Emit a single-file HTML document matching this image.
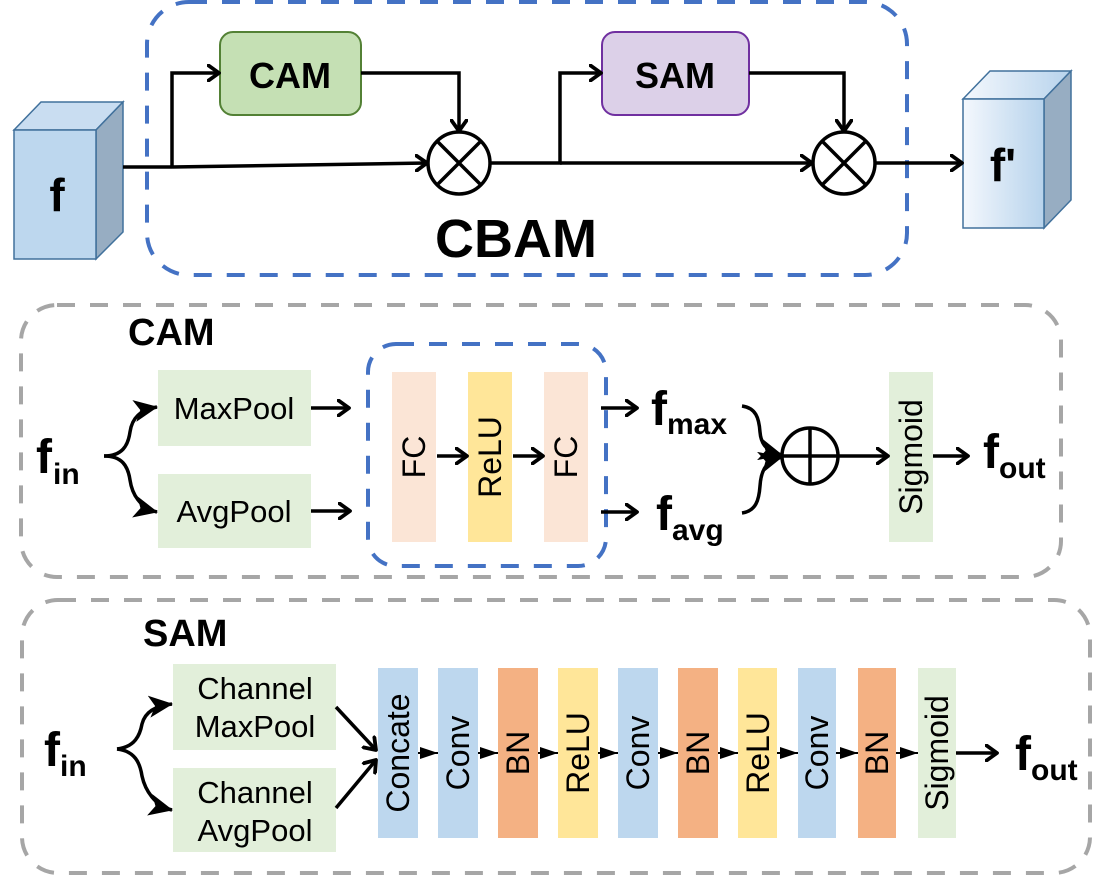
<!DOCTYPE html>
<html><head><meta charset="utf-8"><style>
html,body{margin:0;padding:0;background:#fff;}
svg{display:block;}
text{font-family:"Liberation Sans",Arial,sans-serif;}
</style></head><body>
<svg width="1102" height="876" viewBox="0 0 1102 876" xmlns="http://www.w3.org/2000/svg">
<defs>
<marker id="op" viewBox="0 0 14 18" refX="12" refY="9" markerWidth="14" markerHeight="18" markerUnits="userSpaceOnUse" orient="auto">
<path d="M1.5,1.5 L12,9 L1.5,16.5" fill="none" stroke="#000" stroke-width="3.8" stroke-linecap="round" stroke-linejoin="round"/></marker>
<marker id="fl" viewBox="0 0 24 22" refX="23" refY="11" markerWidth="24" markerHeight="22" markerUnits="userSpaceOnUse" orient="auto">
<path d="M0,0 L24,11 L0,22 L6,11 Z" fill="#000"/></marker>
<marker id="tri" viewBox="0 0 18 12" refX="18" refY="6" markerWidth="18" markerHeight="12" markerUnits="userSpaceOnUse" orient="auto">
<path d="M0,0 L18,6 L0,12 Z" fill="#000"/></marker>
<linearGradient id="g1" x1="0" x2="1" y1="0" y2="0"><stop offset="0" stop-color="#f4f8fd"/><stop offset="1" stop-color="#b7d3ec"/></linearGradient>
</defs>

<!-- TOP -->
<rect x="147" y="2" width="760" height="273" rx="42" fill="none" stroke="#4472c4" stroke-width="4" stroke-dasharray="18,15"/>
<polygon points="14,130 41,102 123,102 96,130" fill="#c9ddf1" stroke="#41719c" stroke-width="1.5"/>
<polygon points="96,130 123,102 123,232 96,259" fill="#97adc2" stroke="#41719c" stroke-width="1.5"/>
<rect x="14" y="130" width="82" height="129" fill="#bdd7ee" stroke="#41719c" stroke-width="1.5"/>
<text x="57" y="211" font-size="46" font-weight="bold" text-anchor="middle">f</text>
<polygon points="963,99 990,71 1071,71 1044,99" fill="url(#g1)" stroke="#41719c" stroke-width="1.5"/>
<polygon points="1044,99 1071,71 1071,200 1044,228" fill="#97adc2" stroke="#41719c" stroke-width="1.5"/>
<rect x="963" y="99" width="81" height="129" fill="url(#g1)" stroke="#41719c" stroke-width="1.5"/>
<text x="1003" y="181" font-size="46" font-weight="bold" text-anchor="middle">f'</text>

<rect x="220" y="32" width="141" height="83" rx="13" fill="#c5e0b4" stroke="#538135" stroke-width="2"/>
<text x="290" y="88" font-size="36" font-weight="bold" text-anchor="middle">CAM</text>
<rect x="602" y="32" width="147" height="83" rx="13" fill="#dcd0e8" stroke="#7030a0" stroke-width="2"/>
<text x="675" y="88" font-size="36" font-weight="bold" text-anchor="middle">SAM</text>

<g fill="none" stroke="#000" stroke-width="3.5">
<path d="M123,167 L172,167"/>
<path d="M172,167 L172,73 L219,73" marker-end="url(#op)"/>
<path d="M172,167 L427,163" marker-end="url(#op)"/>
<path d="M361,73 L459,73 L459,131" marker-end="url(#op)"/>
<circle cx="459" cy="163" r="31"/>
<path d="M437,141 L481,185 M481,141 L437,185"/>
<path d="M490,163 L560,163 L560,73 L601,73" marker-end="url(#op)"/>
<path d="M560,163 L812,163" marker-end="url(#op)"/>
<path d="M749,73 L844,73 L844,131" marker-end="url(#op)"/>
<circle cx="844" cy="163" r="31"/>
<path d="M822,141 L866,185 M866,141 L822,185"/>
<path d="M875,163 L962,163" marker-end="url(#op)"/>
</g>
<text x="516" y="257" font-size="54" font-weight="bold" text-anchor="middle">CBAM</text>

<!-- CAM section -->
<rect x="21" y="305" width="1040" height="272" rx="36" fill="none" stroke="#a6a6a6" stroke-width="4" stroke-dasharray="18,15"/>
<text x="128" y="345" font-size="38" font-weight="bold">CAM</text>
<text x="36" y="473" font-size="48" font-weight="bold">f</text>
<text x="53" y="484" font-size="30" font-weight="bold">in</text>
<rect x="158" y="370" width="153" height="76" fill="#e2efda"/>
<text x="234" y="419" font-size="31" text-anchor="middle">MaxPool</text>
<rect x="158" y="474" width="153" height="74" fill="#e2efda"/>
<text x="234" y="522" font-size="31" text-anchor="middle">AvgPool</text>
<rect x="368" y="344" width="238" height="222" rx="28" fill="none" stroke="#4472c4" stroke-width="4" stroke-dasharray="18,15"/>
<rect x="392" y="372" width="44" height="170" fill="#fbe5d6"/>
<rect x="468" y="372" width="44" height="170" fill="#ffe699"/>
<rect x="544" y="372" width="44" height="170" fill="#fbe5d6"/>
<rect x="889" y="372" width="44" height="170" fill="#e2efda"/>
<g font-size="32" text-anchor="middle">
<text transform="translate(425,457) rotate(-90)">FC</text>
<text transform="translate(501,457) rotate(-90)">ReLU</text>
<text transform="translate(577,457) rotate(-90)">FC</text>
<text transform="translate(922,457) rotate(-90)">Sigmoid</text>
</g>
<g fill="none" stroke="#000" stroke-width="3.5">
<path d="M104,456 C122,456 128,446 130,432 C132,418 140,410 157,407" marker-end="url(#fl)"/>
<path d="M104,456 C122,456 128,466 130,480 C132,494 140,508 157,512" marker-end="url(#fl)"/>
<path d="M311,408 L349,408" marker-end="url(#op)"/>
<path d="M311,511 L350,511" marker-end="url(#op)"/>
<path d="M437,456 L467,456" marker-end="url(#op)"/>
<path d="M513,456 L543,456" marker-end="url(#op)"/>
<path d="M601,408 L637,408" marker-end="url(#op)"/>
<path d="M601,512 L637,512" marker-end="url(#op)"/>
<path d="M742,406 C756,408 759,418 760,432 C761,444 766,451 782,455" marker-end="url(#fl)"/>
<path d="M742,513 C756,511 759,500 760,486 C761,470 766,461 782,457" marker-end="url(#fl)"/>
<circle cx="810" cy="456" r="28"/>
<path d="M782,456 L888,456" marker-end="url(#op)"/>
<path d="M810,428 L810,484"/>
<path d="M933,456 L968,456" marker-end="url(#op)"/>
</g>
<text x="651" y="425" font-size="48" font-weight="bold">f</text>
<text x="667" y="434" font-size="30" font-weight="bold">max</text>
<text x="656" y="530" font-size="48" font-weight="bold">f</text>
<text x="672" y="540" font-size="30" font-weight="bold">avg</text>
<text x="983" y="468" font-size="48" font-weight="bold">f</text>
<text x="999" y="478" font-size="30" font-weight="bold">out</text>

<!-- SAM section -->
<rect x="22" y="600" width="1068" height="273" rx="36" fill="none" stroke="#a6a6a6" stroke-width="4" stroke-dasharray="18,15"/>
<text x="143" y="646" font-size="38" font-weight="bold">SAM</text>
<text x="44" y="766" font-size="48" font-weight="bold">f</text>
<text x="60" y="776" font-size="30" font-weight="bold">in</text>
<rect x="173" y="664" width="163" height="86" fill="#e2efda"/>
<text x="255" y="699" font-size="31" text-anchor="middle">Channel</text>
<text x="255" y="737" font-size="31" text-anchor="middle">MaxPool</text>
<rect x="173" y="768" width="163" height="84" fill="#e2efda"/>
<text x="255" y="803" font-size="31" text-anchor="middle">Channel</text>
<text x="255" y="841" font-size="31" text-anchor="middle">AvgPool</text>
<g>
<rect x="378" y="668" width="40" height="170" fill="#bdd7ee"/>
<rect x="438" y="668" width="40" height="170" fill="#bdd7ee"/>
<rect x="498" y="668" width="40" height="170" fill="#f4b183"/>
<rect x="558" y="668" width="40" height="170" fill="#ffe699"/>
<rect x="618" y="668" width="40" height="170" fill="#bdd7ee"/>
<rect x="678" y="668" width="40" height="170" fill="#f4b183"/>
<rect x="738" y="668" width="39" height="170" fill="#ffe699"/>
<rect x="798" y="668" width="38" height="170" fill="#bdd7ee"/>
<rect x="858" y="668" width="38" height="170" fill="#f4b183"/>
<rect x="918" y="668" width="38" height="170" fill="#e2efda"/>
</g>
<g font-size="32" text-anchor="middle">
<text transform="translate(409,753) rotate(-90)">Concate</text>
<text transform="translate(469,753) rotate(-90)">Conv</text>
<text transform="translate(529,753) rotate(-90)">BN</text>
<text transform="translate(589,753) rotate(-90)">ReLU</text>
<text transform="translate(649,753) rotate(-90)">Conv</text>
<text transform="translate(709,753) rotate(-90)">BN</text>
<text transform="translate(769,753) rotate(-90)">ReLU</text>
<text transform="translate(828,753) rotate(-90)">Conv</text>
<text transform="translate(888,753) rotate(-90)">BN</text>
<text transform="translate(948,753) rotate(-90)">Sigmoid</text>
</g>
<g fill="none" stroke="#000" stroke-width="3.5">
<path d="M117,749 C135,747 140,735 142,724 C145,712 155,706 172,704" marker-end="url(#fl)"/>
<path d="M117,749 C135,751 140,763 142,776 C145,790 155,806 172,810" marker-end="url(#fl)"/>
<path d="M336,707 L376,750" marker-end="url(#op)"/>
<path d="M336,808 L376,760" marker-end="url(#op)"/>
<path d="M956,753 L997,753" marker-end="url(#op)"/>
</g>
<g stroke="#000" stroke-width="2">
<path d="M418,753 L438,753" marker-end="url(#tri)"/>
<path d="M478,753 L498,753" marker-end="url(#tri)"/>
<path d="M538,753 L558,753" marker-end="url(#tri)"/>
<path d="M598,753 L618,753" marker-end="url(#tri)"/>
<path d="M658,753 L678,753" marker-end="url(#tri)"/>
<path d="M718,753 L738,753" marker-end="url(#tri)"/>
<path d="M777,753 L798,753" marker-end="url(#tri)"/>
<path d="M836,753 L858,753" marker-end="url(#tri)"/>
<path d="M896,753 L918,753" marker-end="url(#tri)"/>
</g>
<text x="1015" y="770" font-size="48" font-weight="bold">f</text>
<text x="1031" y="780" font-size="30" font-weight="bold">out</text>
</svg>
</body></html>
